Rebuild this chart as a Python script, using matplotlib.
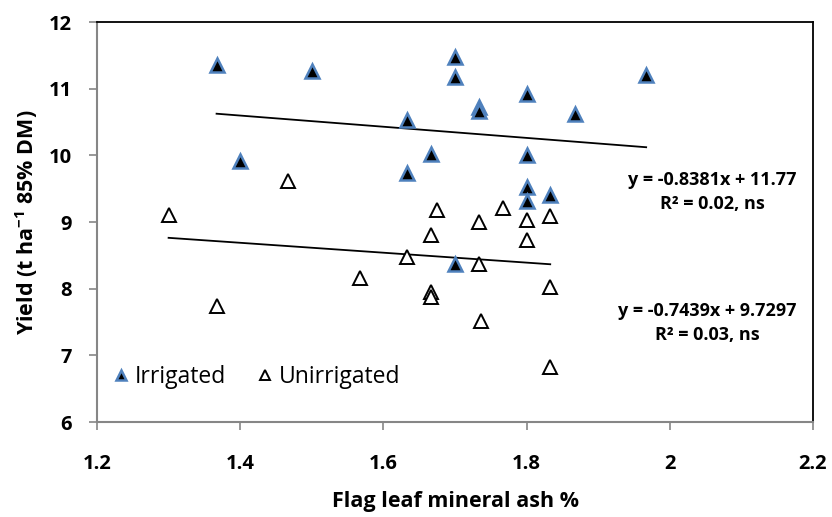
import numpy as np
import matplotlib.pyplot as plt

plt.rcParams['font.family'] = ['Open Sans', 'DejaVu Sans']
plt.rcParams['font.weight'] = 'bold'
plt.rcParams['mathtext.fontset'] = 'custom'
plt.rcParams['mathtext.rm'] = 'Open Sans:bold'
plt.rcParams['mathtext.bf'] = 'Open Sans:bold'

# irrigated plots
irr_ash = [1.367, 1.400, 1.500, 1.633, 1.633, 1.667, 1.700, 1.700, 1.733,
           1.733, 1.700, 1.800, 1.800, 1.800, 1.800, 1.833, 1.867, 1.967]
irr_yield = [11.35, 9.92, 11.26, 10.53, 9.73, 10.02, 11.47, 11.17, 10.73,
             10.66, 8.37, 10.92, 10.00, 9.53, 9.31, 9.40, 10.62, 11.21]

# unirrigated plots
unirr_ash = [1.300, 1.367, 1.467, 1.567, 1.633, 1.667, 1.667, 1.667, 1.675,
             1.733, 1.733, 1.737, 1.767, 1.800, 1.800, 1.833, 1.833, 1.833]
unirr_yield = [9.10, 7.74, 9.61, 8.16, 8.48, 8.81, 7.95, 7.88, 9.18,
               9.00, 8.37, 7.52, 9.21, 9.03, 8.73, 9.09, 8.03, 6.82]

# trendlines (slope, intercept) as printed on the chart
irr_fit = (-0.8381, 11.77)
unirr_fit = (-0.7439, 9.7297)

xticks = [1.2, 1.4, 1.6, 1.8, 2.0, 2.2]
xticklabels = ['1.2', '1.4', '1.6', '1.8', '2', '2.2']
yticks = [6, 7, 8, 9, 10, 11, 12]

fig = plt.figure(figsize=(8.32, 5.17), dpi=100)
ax = fig.add_axes([97 / 832, 1 - 422 / 517, 716 / 832, 400 / 517])

ax.plot(irr_ash, irr_yield, '^', ms=9.5, mfc='black', mec='#4F81BD', mew=1.8,
        ls='none', label='Irrigated', zorder=3)
ax.plot(unirr_ash, unirr_yield, '^', ms=9.5, mfc='white', mec='black', mew=1.4,
        ls='none', label='Unirrigated', zorder=3)

xs = np.array([min(irr_ash), max(irr_ash)])
ax.plot(xs, irr_fit[0] * xs + irr_fit[1], color='black', lw=1.3, zorder=2)
xs = np.array([min(unirr_ash), max(unirr_ash)])
ax.plot(xs, unirr_fit[0] * xs + unirr_fit[1], color='black', lw=1.3, zorder=2)

ax.text(2.059, 9.45, 'y = -0.8381x + 11.77\nR² = 0.02, ns', ha='center', va='center',
        fontsize=13, fontweight='bold', linespacing=1.45)
ax.text(2.052, 7.48, 'y = -0.7439x + 9.7297\nR² = 0.03, ns', ha='center', va='center',
        fontsize=13, fontweight='bold', linespacing=1.45)

ax.set_xlim(1.2, 2.2)
ax.set_ylim(6, 12)
ax.set_xticks(xticks)
ax.set_xticklabels(xticklabels)
ax.set_yticks(yticks)
ax.tick_params(axis='both', direction='out', length=6, width=1.2, color='#868686',
               labelsize=14.5)
ax.tick_params(axis='x', pad=17)
ax.tick_params(axis='y', pad=12)

for side in ['left', 'bottom']:
    ax.spines[side].set_color('#868686')
    ax.spines[side].set_linewidth(1.5)
for side in ['top', 'right']:
    ax.spines[side].set_color('black')
    ax.spines[side].set_linewidth(1.3)

ax.set_xlabel('Flag leaf mineral ash %', fontsize=15.5, fontweight='bold', labelpad=12)
ax.set_ylabel('Yield (t ha$^{-1}$ 85% DM)', fontsize=15.5, fontweight='bold', labelpad=6)

ax.legend(loc='lower left', bbox_to_anchor=(-0.011, 0.03), ncol=2, frameon=False,
          prop={'size': 16.5, 'weight': 'normal'}, handletextpad=0.1,
          columnspacing=1.2, handlelength=1.0, markerscale=0.75)

fig.savefig('out.png', dpi=100)
